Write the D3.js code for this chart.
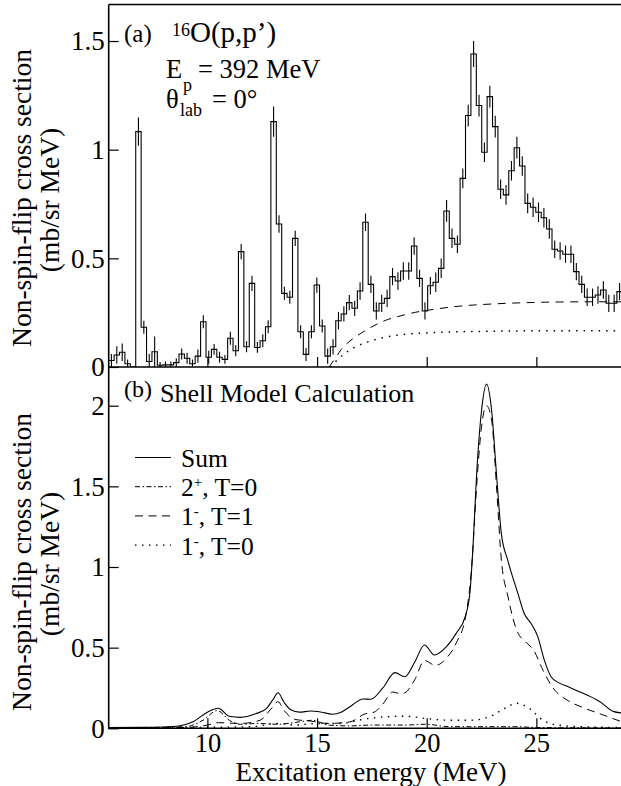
<!DOCTYPE html>
<html><head><meta charset="utf-8">
<script src="https://cdn.jsdelivr.net/npm/d3@7"></script>
<style>
body{margin:0;background:#fff;}
svg{display:block;}
text{font-family:"Liberation Serif","Times New Roman",serif;fill:#000;}
</style></head>
<body><svg id="c" width="621" height="786"></svg>
<script>
// ---- data (top panel: measured histogram) ----
const binStart = 5.5;      // MeV, left edge of first bin
const binWidth = 0.2465;   // MeV
const dataValues = [0.03,0.055,0.068,0.015,0.0,1.083,0.183,0.025,0.07,0.008,
0.01,0.01,0.02,0.06,0.04,0.015,0.05,0.208,0.045,0.081,
0.045,0.035,0.132,0.075,0.531,0.093,0.385,0.09,0.121,0.185,
1.129,0.658,0.339,0.321,0.592,0.162,0.058,0.162,0.377,0.189,
0.05,0.093,0.213,0.244,0.296,0.27,0.35,0.666,0.38,0.258,
0.293,0.316,0.416,0.396,0.442,0.442,0.557,0.408,0.258,0.374,
0.39,0.454,0.718,0.592,0.565,0.868,1.157,1.44,1.203,0.988,
1.244,1.106,0.818,0.792,0.903,1.009,0.925,0.753,0.735,0.712,
0.687,0.635,0.542,0.534,0.519,0.519,0.439,0.38,0.321,0.321,
0.331,0.354,0.293,0.293,0.347];
const dataErrors = [0.03,0.04,0.04,0.02,0,0.065,0.03,0.035,0.07,0.015,
0.015,0.015,0.02,0.025,0.025,0.02,0.03,0.03,0.03,0.025,
0.025,0.02,0.03,0.025,0.035,0.025,0.035,0.025,0.03,0.03,
0.07,0.04,0.03,0.03,0.035,0.03,0.03,0.03,0.035,0.03,
0.035,0.035,0.04,0.035,0.035,0.035,0.04,0.04,0.04,0.04,
0.04,0.04,0.04,0.04,0.04,0.04,0.04,0.04,0.04,0.04,
0.045,0.045,0.05,0.045,0.04,0.045,0.05,0.06,0.05,0.045,
0.05,0.05,0.045,0.045,0.045,0.05,0.045,0.045,0.045,0.045,
0.045,0.045,0.04,0.04,0.04,0.04,0.04,0.04,0.04,0.04,
0.04,0.04,0.04,0.04,0.04];
// background curves in top panel
const bgDashedE = [15.55,15.8,16.1,16.5,17.0,17.5,18.0,18.8,19.5,20.3,21.5,23.0,24.5,26.0,27.5,29.0];
const bgDashedV = [0.0,0.035,0.08,0.12,0.155,0.185,0.21,0.235,0.252,0.265,0.28,0.29,0.296,0.299,0.3,0.3];
const bgDottedE = [15.6,15.9,16.3,16.8,17.3,18.0,18.8,19.8,21.0,22.5,24.0,26.0,29.0];
const bgDottedV = [0.0,0.03,0.065,0.095,0.115,0.135,0.148,0.156,0.161,0.164,0.166,0.167,0.167];

// ---- data (bottom panel: shell model) ----
const sumE = [5.5,7,8,8.75,9.35,9.96,10.5,11.0,11.5,12.2,12.7,13.0,13.22,13.5,13.8,14.2,14.7,15.2,15.7,16.1,16.5,17.1,17.45,18.0,18.55,19.0,19.45,19.9,20.35,20.9,21.35,21.75,21.97,22.12,22.27,22.5,22.73,22.96,23.19,23.4,23.7,24.15,24.45,24.76,25.06,25.37,25.67,26.05,26.4,27.13,27.9,28.5,28.9];
const sumV = [0.005,0.006,0.008,0.016,0.04,0.097,0.124,0.075,0.068,0.09,0.124,0.18,0.22,0.16,0.115,0.1,0.107,0.1,0.087,0.1,0.134,0.182,0.18,0.25,0.345,0.32,0.41,0.516,0.454,0.506,0.59,0.69,0.84,1.15,1.56,1.97,2.134,1.97,1.56,1.21,1.04,0.84,0.71,0.65,0.57,0.42,0.32,0.28,0.26,0.217,0.165,0.105,0.095];
const t1E = [5.5,9,10,10.5,11.5,12.4,12.9,13.22,13.5,14,14.7,15.5,16.5,17.2,17.6,18.0,18.45,18.8,19.0,19.45,19.9,20.4,20.9,21.35,21.8,22.05,22.27,22.5,22.73,22.96,23.2,23.4,23.7,24.1,24.55,24.85,25.3,25.76,26.4,27.1,27.9,28.9];
const t1V = [0.002,0.005,0.02,0.035,0.03,0.05,0.12,0.165,0.11,0.055,0.045,0.03,0.04,0.09,0.1,0.15,0.225,0.215,0.22,0.3,0.42,0.39,0.435,0.53,0.71,1.0,1.49,1.87,2.0,1.91,1.46,1.05,0.82,0.61,0.53,0.49,0.36,0.25,0.175,0.13,0.09,0.04];
const q2E = [5.5,9,9.8,10.45,11,11.5,12.3,13.2,14.2,14.8,15.5,16.5,17.5,19,20,21,22,24,25,28.9];
const q2V = [0.003,0.01,0.05,0.11,0.05,0.025,0.03,0.025,0.04,0.05,0.02,0.015,0.02,0.02,0.025,0.01,0.01,0.01,0.005,0.002];
const t0E = [5.5,9,12,13.2,14,15,16,17.3,18,19,20,21,22,23,23.5,24.1,24.7,25.3,26,27,28.9];
const t0V = [0.002,0.005,0.01,0.03,0.02,0.03,0.03,0.06,0.07,0.075,0.06,0.05,0.05,0.08,0.12,0.155,0.12,0.05,0.02,0.01,0.005];

const yTicksTop = [0,0.5,1,1.5];
const yTicksBot = [0,0.5,1,1.5,2];
const xTicks = [10,15,20,25];

// ---- layout ----
const L = 108.7, R = 621.9, T1 = 4.5, B1 = 367, B2 = 728.3;
const svg = d3.select("#c");
const x = d3.scaleLinear().domain([5.5, 28.9]).range([L, R]);
const yA = d3.scaleLinear().domain([0, 1.668]).range([B1, T1]);
const yB = d3.scaleLinear().domain([0, 2.24]).range([B2, B1]);
const FS = 27;
const DASH = "8,5.5", DOT = "1.5,5.5", DASHDOT = "5,2.5,1.5,2.5";

svg.append("defs").selectAll("clipPath").data([["ca",T1,B1],["cb",B1,B2]]).join("clipPath")
  .attr("id", d=>d[0]).append("rect").attr("x",L).attr("y",d=>d[1]).attr("width",R-L).attr("height",d=>d[2]-d[1]);

function yAxis(scale, ticks, maxV) {
  const minor = d3.range(0, maxV + 1e-9, 0.1).map(v=>+v.toFixed(2)).filter(v=>!ticks.some(t=>Math.abs(t-v)<1e-6));
  const g = svg.append("g").attr("transform", `translate(${L},0)`);
  g.call(d3.axisLeft(scale).tickValues(minor).tickSize(-5).tickFormat(""));
  g.call(d3.axisLeft(scale).tickValues(ticks).tickSize(-10).tickPadding(4).tickFormat(d=>String(d)));
  g.selectAll(".domain").remove();
  g.selectAll("line").attr("stroke","#000").attr("stroke-width",1.2);
  g.selectAll("text").attr("font-size",FS).attr("font-family",null).attr("dy","0.33em");
}
function xAxis(yPos, labels) {
  const minor = d3.range(6, 29, 1).filter(v=>v%5!==0);
  const g = svg.append("g").attr("transform", `translate(0,${yPos})`);
  g.call(d3.axisBottom(x).tickValues(minor).tickSize(-5).tickFormat(""));
  g.call(d3.axisBottom(x).tickValues(xTicks).tickSize(-10).tickPadding(4.5).tickFormat(labels ? d=>String(d) : ""));
  g.selectAll(".domain").remove();
  g.selectAll("line").attr("stroke","#000").attr("stroke-width",1.2);
  g.selectAll("text").attr("font-size",26.5).attr("font-family",null);
}
yAxis(yA, yTicksTop, 1.6);
yAxis(yB, yTicksBot, 2.2);
xAxis(B1, false);
xAxis(B2, true);

// ---- top panel histogram ----
const gA = svg.append("g").attr("clip-path","url(#ca)");
const bins = dataValues.map((v,i)=>({e0: binStart + i*binWidth, v, err: dataErrors[i]}));
const stepPts = bins.map(b=>[b.e0, b.v]).concat([[binStart + bins.length*binWidth, bins[bins.length-1].v]]);
gA.append("path").attr("d", d3.line().x(d=>x(d[0])).y(d=>yA(d[1])).curve(d3.curveStepAfter)(stepPts))
  .attr("fill","none").attr("stroke","#000").attr("stroke-width",1.1);
gA.selectAll("line.err").data(bins.filter(b=>b.err>0)).join("line").attr("class","err")
  .attr("x1",b=>x(b.e0+binWidth/2)).attr("x2",b=>x(b.e0+binWidth/2))
  .attr("y1",b=>yA(b.v-b.err)).attr("y2",b=>yA(b.v+b.err))
  .attr("stroke","#000").attr("stroke-width",1.1);
const curveLine = (E,V,ys) => d3.line().x((d,i)=>x(E[i])).y((d,i)=>ys(V[i])).curve(d3.curveMonotoneX)(V);
gA.append("path").attr("d", curveLine(bgDashedE,bgDashedV,yA)).attr("fill","none").attr("stroke","#000").attr("stroke-width",1).attr("stroke-dasharray","8,6.5");
gA.append("path").attr("d", curveLine(bgDottedE,bgDottedV,yA)).attr("fill","none").attr("stroke","#000").attr("stroke-width",1.5).attr("stroke-dasharray","1.5,6");

// ---- bottom panel curves ----
const gB = svg.append("g").attr("clip-path","url(#cb)");
const series = [
  {E: sumE, V: sumV, dash: null, w: 1.1},
  {E: q2E, V: q2V, dash: DASHDOT, w: 1},
  {E: t1E, V: t1V, dash: DASH, w: 1},
  {E: t0E, V: t0V, dash: DOT, w: 1.4}
];
series.forEach(s=>{
  gB.append("path").attr("d", curveLine(s.E,s.V,yB)).attr("fill","none").attr("stroke","#000")
    .attr("stroke-width",s.w).attr("stroke-dasharray",s.dash);
});

// frame
svg.append("path").attr("d",`M${L},${T1}H${R+5}M${L},${T1}V${B2}H${R+5}M${L},${B1}H${R+5}`)
  .attr("fill","none").attr("stroke","#000").attr("stroke-width",1.6);

// ---- texts ----
const txt = (s, xx, yy, fs) => svg.append("text").attr("x",xx).attr("y",yy).attr("font-size",fs).text(s);
txt("(a)", 124, 42, 25);
txt("16", 172, 36, 18);
txt("O(p,p’)", 190, 42, 29);
txt("E", 166, 78, 26.5);
txt("p", 183, 91, 18);
txt("= 392 MeV", 198, 78, 26.5);
txt("θ", 166, 107.5, 26.5);
txt("lab", 180, 116, 18);
txt("= 0°", 212, 107.5, 26.5);

txt("(b)", 124, 397, 24);
txt("Shell Model Calculation", 160, 402, 26);

// legend
const legend = [
  {label:["Sum",null,""], dash:null, w:1.1},
  {label:["2","+",", T=0"], dash:DASHDOT, w:1},
  {label:["1","-",", T=1"], dash:DASH, w:1},
  {label:["1","-",", T=0"], dash:DOT, w:1.4}
];
legend.forEach((d,i)=>{
  const yy = 457.5 + i*29.2;
  svg.append("line").attr("x1",135).attr("x2",171).attr("y1",yy).attr("y2",yy)
    .attr("stroke","#000").attr("stroke-width",d.w).attr("stroke-dasharray",d.dash);
  const t = svg.append("text").attr("x",181).attr("y",yy+9.5).attr("font-size",25.5);
  t.append("tspan").text(d.label[0]);
  if (d.label[1]) {
    t.append("tspan").attr("font-size",15).attr("dy",-9).text(d.label[1]);
    t.append("tspan").attr("dy",9).text(d.label[2]);
  }
});

// axis titles
[[198,B1],[562,B2]].forEach(([cy])=>{
  svg.append("text").attr("transform",`translate(31,${cy}) rotate(-90)`).attr("text-anchor","middle")
    .attr("font-size",27.5).text("Non-spin-flip cross section");
  svg.append("text").attr("transform",`translate(59,${cy+2}) rotate(-90)`).attr("text-anchor","middle")
    .attr("font-size",27.5).text("(mb/sr MeV)");
});
svg.append("text").attr("x",371).attr("y",781).attr("text-anchor","middle").attr("font-size",27)
  .text("Excitation energy (MeV)");
</script></body></html>
